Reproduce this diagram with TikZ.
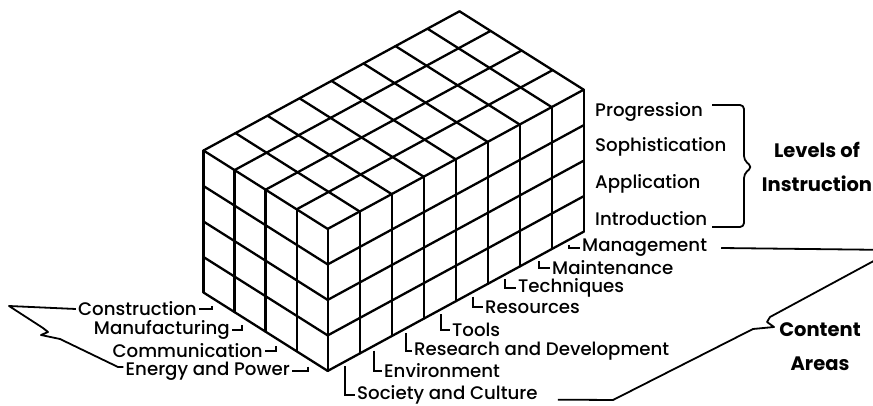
\documentclass[tikz,border=0pt]{standalone}
\usepackage{fontspec}
\setmainfont{Poppins}[UprightFont=* Medium, BoldFont=* Bold]
\usetikzlibrary{calc, positioning}

\begin{document}
\begin{tikzpicture}[
    x=1pt, y=-1pt,
    grid/.style={line width=2.3pt, line cap=round, line join=round},
    lbl/.style={font=\fontsize{18.2}{20}\selectfont, inner sep=2pt},
    heading/.style={font=\fontsize{19.5}{34}\selectfont\bfseries, align=center},
    hook/.style={line width=1.8pt},
    bracket/.style={line width=1.8pt, line join=round},
  ]
  \useasboundingbox (0,0) rectangle (873,406);
  \clip (0,0) rectangle (873,406);

  % block corners: front-left and near top
  \coordinate (fl) at (203.5,150.5);
  \coordinate (nc) at (327.7,228.9);

  % top face
  \foreach \i in {0,...,4}
    \draw[grid] ($(fl)+\i*(31.05,19.6)$) -- ++(256,-139.2);
  \foreach \j in {0,...,8}
    \draw[grid] ($(fl)+\j*(32,-17.4)$) -- ++(124.2,78.4);

  % front face
  \foreach \i in {0,...,4}
    \draw[grid] ($(fl)+\i*(31.05,19.6)$) -- ++(0,142);
  \foreach \r in {1,...,4}
    \draw[grid] ($(fl)+\r*(0,35.5)$) -- ++(124.2,78.4);

  % side face
  \foreach \j in {1,...,8}
    \draw[grid] ($(nc)+\j*(32,-17.4)$) -- ++(0,142);
  \foreach \r in {1,...,4}
    \draw[grid] ($(nc)+\r*(0,35.5)$) -- ++(256,-139.2);

  % hook ends below the cells
  \foreach \k/\t in {0/0.27, 1/1.24, 2/2.33, 3/3.37}
    \coordinate (f\k) at ($(fl)+(0,150)+\t*(31.05,19.6)$);
  \foreach \k/\t in {0/0.55, 1/1.45, 2/2.45, 3/3.55, 4/4.55, 5/5.55, 6/6.6, 7/7.55}
    \coordinate (r\k) at ($(nc)+(0,147)+\t*(32,-17.4)$);

  % front labels
  \node[lbl, anchor=east] (cons) at (199,309) {Construction};
  \node[lbl, anchor=east] (manu) at (232,330) {Manufacturing};
  \node[lbl, anchor=east] (comm) at (265,351) {Communication};
  \node[lbl, anchor=east] (enrg) at (292,371) {Energy and Power};
  \draw[hook] (f0) |- (cons.east);
  \draw[hook] (f1) |- (manu.east);
  \draw[hook] (f2) |- (comm.east);
  \draw[hook] (f3) |- (enrg.east);

  % side labels
  \node[lbl, anchor=west] (soc)  at (355,395) {Society and Culture};
  \node[lbl, anchor=west] (env)  at (382,371) {Environment};
  \node[lbl, anchor=west] (rnd)  at (412,351) {Research and Development};
  \node[lbl, anchor=west] (tool) at (450,330) {Tools};
  \node[lbl, anchor=west] (res)  at (483,307) {Resources};
  \node[lbl, anchor=west] (tech) at (516,288) {Techniques};
  \node[lbl, anchor=west] (mnt)  at (550,268) {Maintenance};
  \node[lbl, anchor=west] (mgmt) at (580,248) {Management};
  \draw[hook] (r0) |- (soc.west);
  \draw[hook] (r1) |- (env.west);
  \draw[hook] (r2) |- (rnd.west);
  \draw[hook] (r3) |- (tool.west);
  \draw[hook] (r4) |- (res.west);
  \draw[hook] (r5) |- (tech.west);
  \draw[hook] (r6) |- (mnt.west);
  \draw[hook] (r7) |- (mgmt.west);

  % levels
  \node[lbl, anchor=west] (prog) at (593,112) {Progression};
  \node[lbl, anchor=west] (soph) at (593,147) {Sophistication};
  \node[lbl, anchor=west] (appl) at (593,184) {Application};
  \node[lbl, anchor=west] (intr) at (593,219) {Introduction};
  \draw[bracket, rounded corners=4pt] (712,105) -- (744,105) -- (744,160)
    -- (752,167) -- (744,174) -- (744,227) -- (712,227);
  \node[heading] (levels) at (817,167) {Levels of\\Instruction};

  % content areas
  \node[heading] (content) at (820,346.5) {Content\\Areas};
  \draw[bracket] ([xshift=12pt]mgmt.east) -- (894,250) -- (770,317) -- (767,322)
    -- (774,327) -- (753,329) -- (613,400) -- ([xshift=18pt]soc.base east);
  \draw[bracket] (cons.west) -- (9,306) -- (43,328) -- (48,332) -- (41,335)
    -- (60,339) -- (118,367) -- ([yshift=4pt]enrg.west);

\end{tikzpicture}
\end{document}
